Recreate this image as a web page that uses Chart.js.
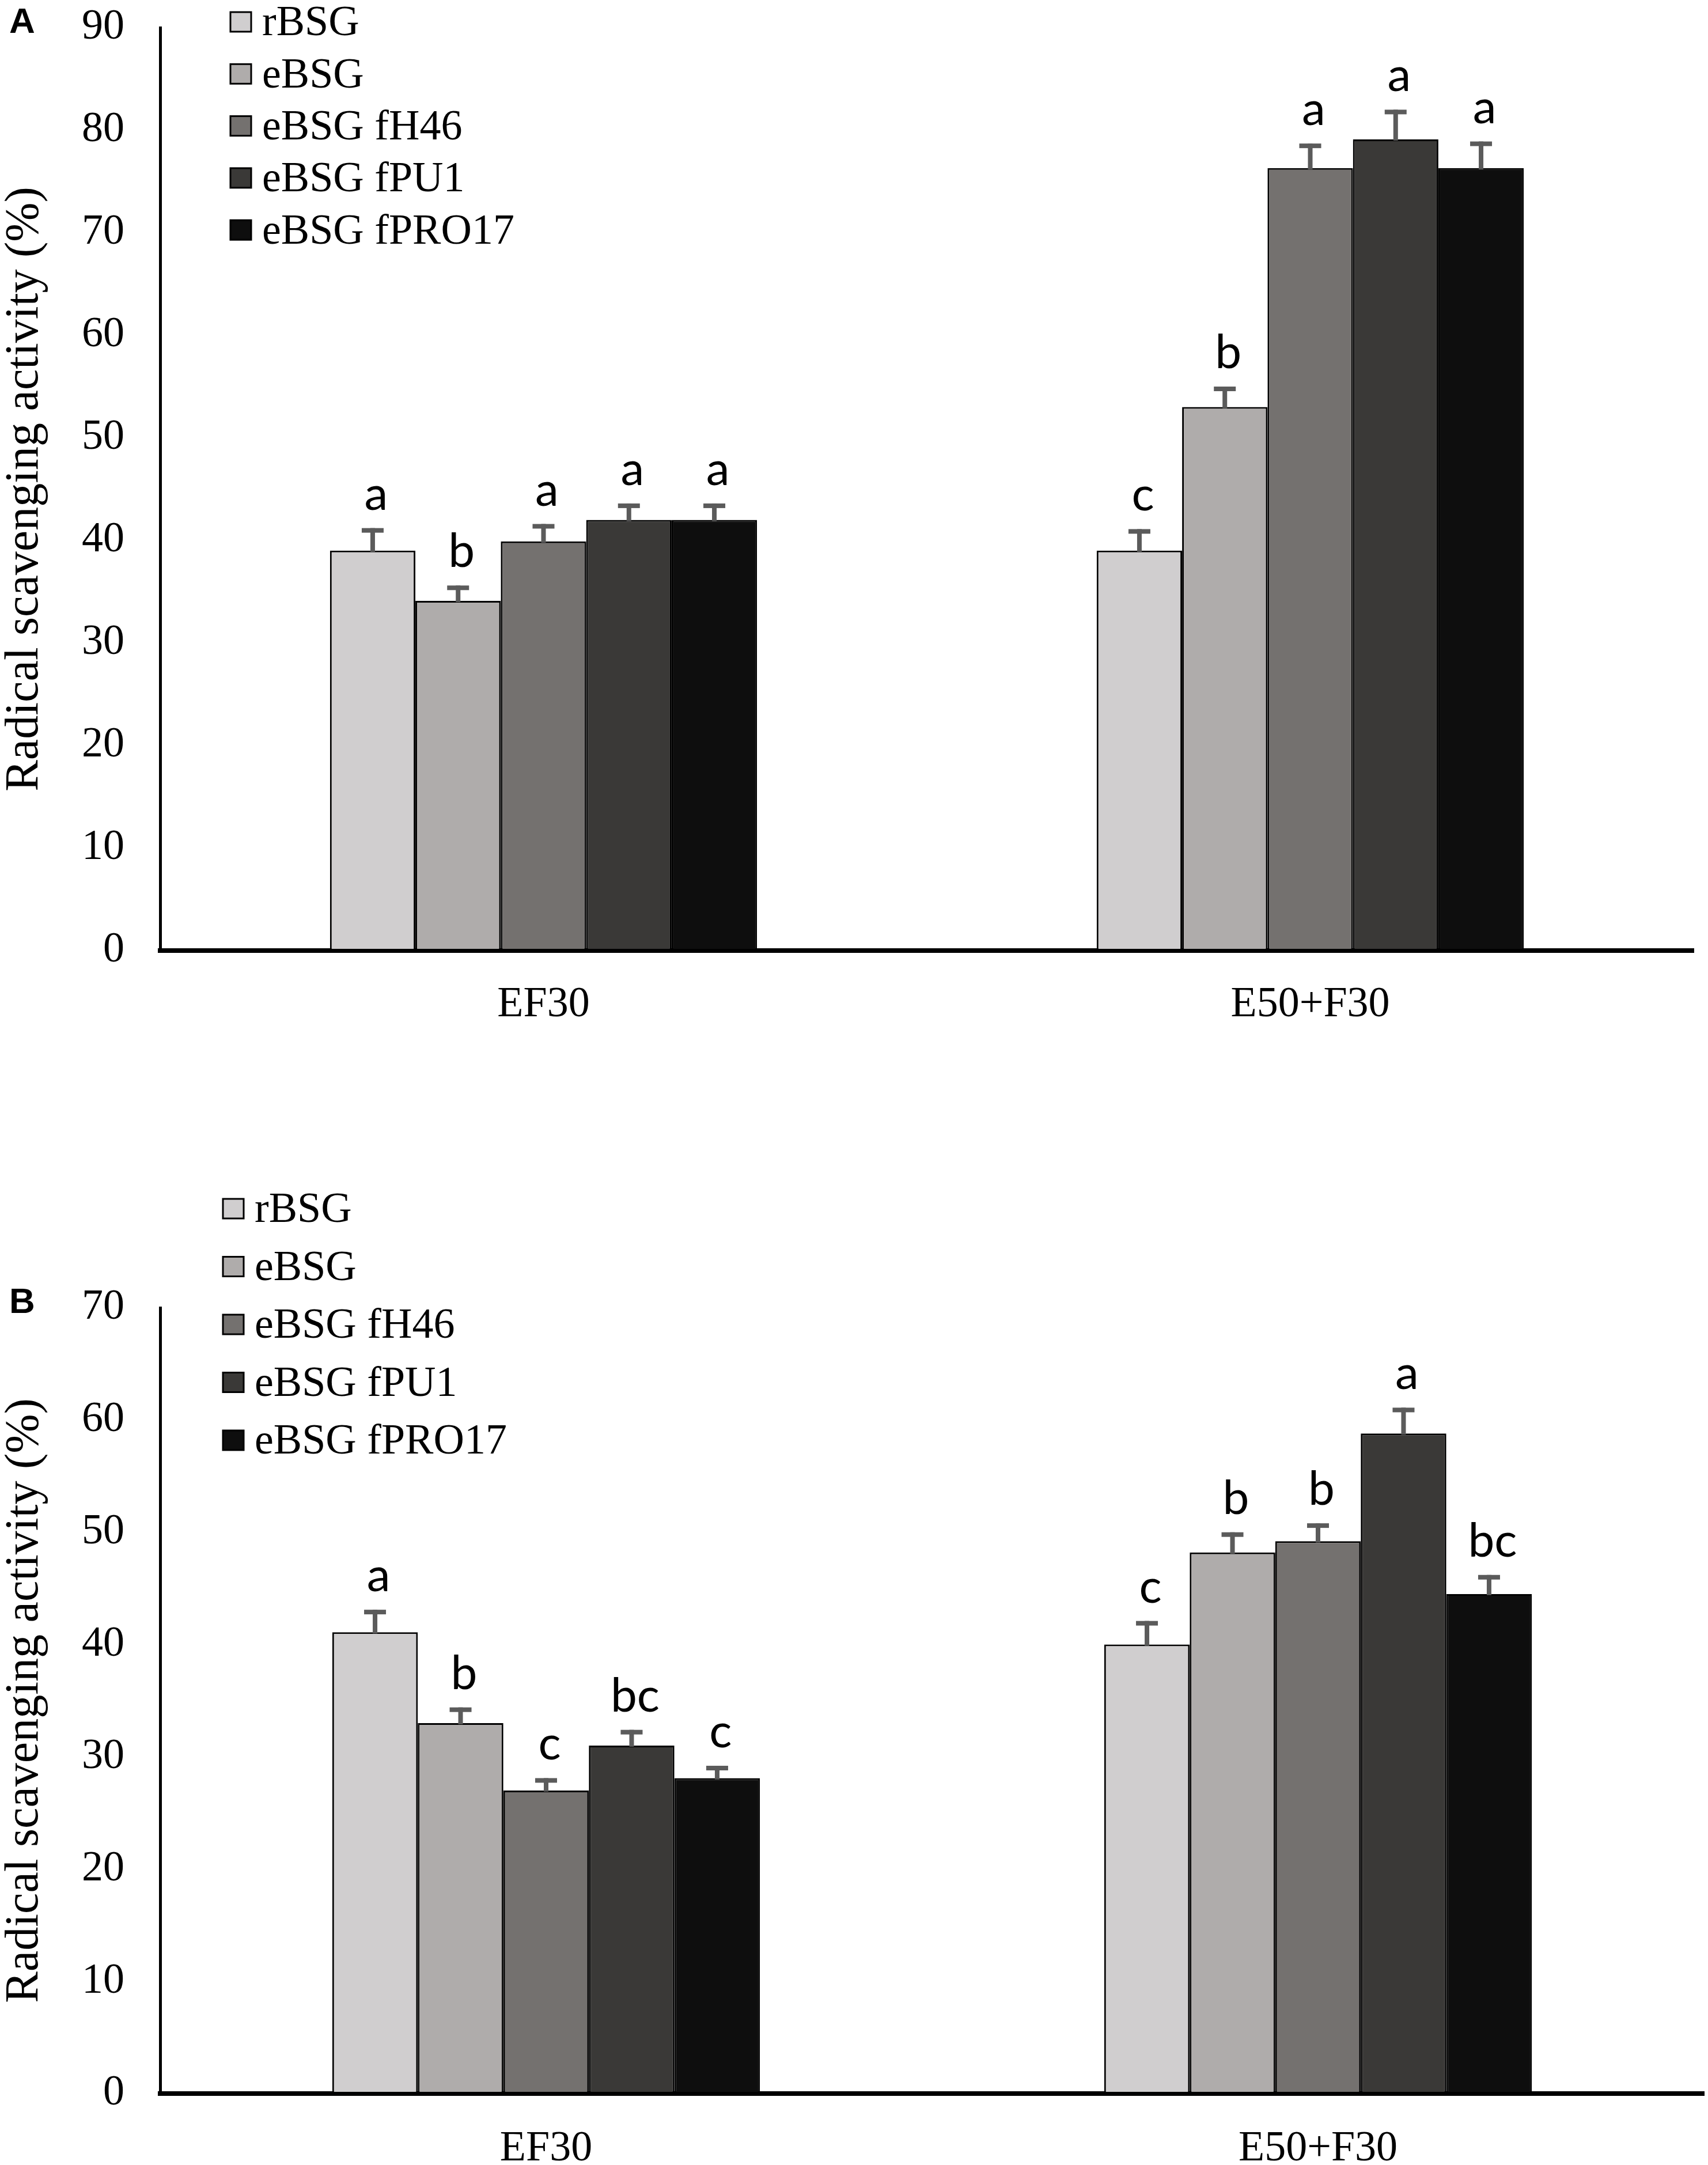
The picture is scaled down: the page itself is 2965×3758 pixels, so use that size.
<!DOCTYPE html>
<html>
<head>
<meta charset="utf-8">
<script src="https://cdn.jsdelivr.net/npm/chart.js@4.4.1/dist/chart.umd.min.js"></script>
<style>
  html, body { margin: 0; padding: 0; background: #fff; }
  body { width: 2965px; height: 3758px; position: relative; overflow: hidden; }
  canvas { position: absolute; left: 0; }
  #chartA { top: 0; }
  #chartB { top: 1880px; }
</style>
</head>
<body>
<canvas id="chartA" width="2965" height="1800"></canvas>
<canvas id="chartB" width="2965" height="1878"></canvas>
<script>
const categories = ["EF30", "E50+F30"];
const seriesNames = ["rBSG", "eBSG", "eBSG fH46", "eBSG fPU1", "eBSG fPRO17"];
const seriesColors = ["#d0cecf", "#afacab", "#74716f", "#3a3937", "#0e0e0e"];

// panel A
const rbsgA = [39.0, 39.0];
const ebsgA = [34.1, 53.0];
const fh46A = [39.9, 76.3];
const fpu1A = [42.0, 79.1];
const fpro17A = [42.0, 76.3];
const errorsA = [[2.2, 2.1], [1.5, 2.0], [1.7, 2.4], [1.6, 2.9], [1.6, 2.6]];
const lettersA = [["a", "c"], ["b", "b"], ["a", "a"], ["a", "a"], ["a", "a"]];
const yTicksA = [0, 10, 20, 30, 40, 50, 60, 70, 80, 90];

// panel B
const rbsgB = [41.1, 40.0];
const ebsgB = [33.0, 48.2];
const fh46B = [27.0, 49.2];
const fpu1B = [31.0, 58.8];
const fpro17B = [28.1, 44.5];
const errorsB = [[2.0, 2.1], [1.4, 1.8], [1.1, 1.6], [1.4, 2.3], [1.1, 1.7]];
const lettersB = [["a", "c"], ["b", "b"], ["c", "b"], ["bc", "a"], ["c", "bc"]];
const yTicksB = [0, 10, 20, 30, 40, 50, 60, 70];

const serif = "'Liberation Serif', 'Times New Roman', serif";

// error bars + significance letters
const errorBarPlugin = {
  id: "errorBars",
  afterDatasetsDraw(chart, args, opts) {
    const ctx = chart.ctx;
    const y = chart.scales.y;
    ctx.save();
    chart.data.datasets.forEach((ds, i) => {
      const meta = chart.getDatasetMeta(i);
      meta.data.forEach((bar, j) => {
        const top = y.getPixelForValue(ds.data[j] + opts.errors[i][j]);
        ctx.fillStyle = "#5b5b5b";
        ctx.fillRect(bar.x - 4, top, 8, bar.y - top + 2);
        ctx.fillRect(bar.x - 19, top, 38, 8);
        ctx.fillStyle = "#000";
        ctx.font = "82px Lato, 'Open Sans', sans-serif";
        ctx.textAlign = "center";
        ctx.textBaseline = "alphabetic";
        ctx.fillText(opts.letters[i][j], bar.x + 6, top - opts.gap);
      });
    });
    ctx.restore();
  }
};

// legend column + panel letter
const sideLegendPlugin = {
  id: "sideLegend",
  afterDraw(chart, args, opts) {
    const ctx = chart.ctx;
    ctx.save();
    chart.data.datasets.forEach((ds, i) => {
      const cy = opts.top + i * opts.step;
      ctx.fillStyle = ds.backgroundColor;
      ctx.fillRect(opts.left, cy - 17, 36, 34);
      ctx.strokeStyle = "#000";
      ctx.lineWidth = 3;
      ctx.strokeRect(opts.left, cy - 17, 36, 34);
      ctx.fillStyle = "#000";
      ctx.font = "74px " + serif;
      ctx.textAlign = "left";
      ctx.textBaseline = "middle";
      ctx.fillText(ds.label, opts.left + 55, cy + 4);
    });
    ctx.font = "bold 62px 'Liberation Sans', Arial, sans-serif";
    ctx.textAlign = "left";
    ctx.textBaseline = "middle";
    ctx.fillText(opts.panel, 16, opts.panelY);
    ctx.restore();
  }
};

function makeChart(id, values, errors, letters, ticks, cfg) {
  const datasets = values.map((v, i) => ({
    label: seriesNames[i],
    data: v,
    backgroundColor: seriesColors[i],
    borderColor: "#000",
    borderWidth: 3,
    borderSkipped: false,
    categoryPercentage: cfg.catPct,
    barPercentage: 1.0
  }));
  return new Chart(document.getElementById(id), {
    type: "bar",
    data: { labels: categories, datasets: datasets },
    plugins: [errorBarPlugin, sideLegendPlugin],
    options: {
      responsive: false,
      devicePixelRatio: 1,
      animation: false,
      layout: { padding: { top: cfg.top, right: cfg.right, left: 0, bottom: 0 } },
      plugins: {
        legend: { display: false },
        tooltip: { enabled: false },
        errorBars: { errors: errors, letters: letters, gap: cfg.gap },
        sideLegend: cfg.legend
      },
      scales: {
        x: {
          grid: { display: false, drawTicks: false },
          border: { display: true, color: "#000", width: 8 },
          ticks: { color: "#000", font: { family: serif, size: 74 }, padding: cfg.xPad },
          afterFit: s => { s.height = cfg.xHeight; }
        },
        y: {
          min: ticks[0],
          max: ticks[ticks.length - 1],
          afterBuildTicks: s => { s.ticks = ticks.map(v => ({ value: v })); },
          grid: { display: false, drawTicks: false },
          border: { display: true, color: "#000", width: 5 },
          ticks: { color: "#000", font: { family: serif, size: 74 }, padding: 62 },
          title: {
            display: true,
            text: "Radical scavenging activity (%)",
            color: "#000",
            font: { family: serif, size: 82, lineHeight: 1 },
            padding: { top: 2, bottom: 0 }
          },
          afterFit: s => { s.width = 278; s.paddingTop = 0; s.paddingBottom = 0; }
        }
      }
    }
  });
}

makeChart("chartA", [rbsgA, ebsgA, fh46A, fpu1A, fpro17A], errorsA, lettersA, yTicksA, {
  catPct: 0.557, top: 48, right: 25, xHeight: 150, gap: 32, xPad: 50,
  legend: { left: 400, top: 38, step: 90.3, panel: "A", panelY: 40 }
});

makeChart("chartB", [rbsgB, ebsgB, fh46B, fpu1B, fpro17B], errorsB, lettersB, yTicksB, {
  catPct: 0.554, top: 390, right: 7, xHeight: 124, gap: 32, xPad: 52,
  legend: { left: 387, top: 218, step: 100.5, panel: "B", panelY: 382 }
});
</script>
</body>
</html>
